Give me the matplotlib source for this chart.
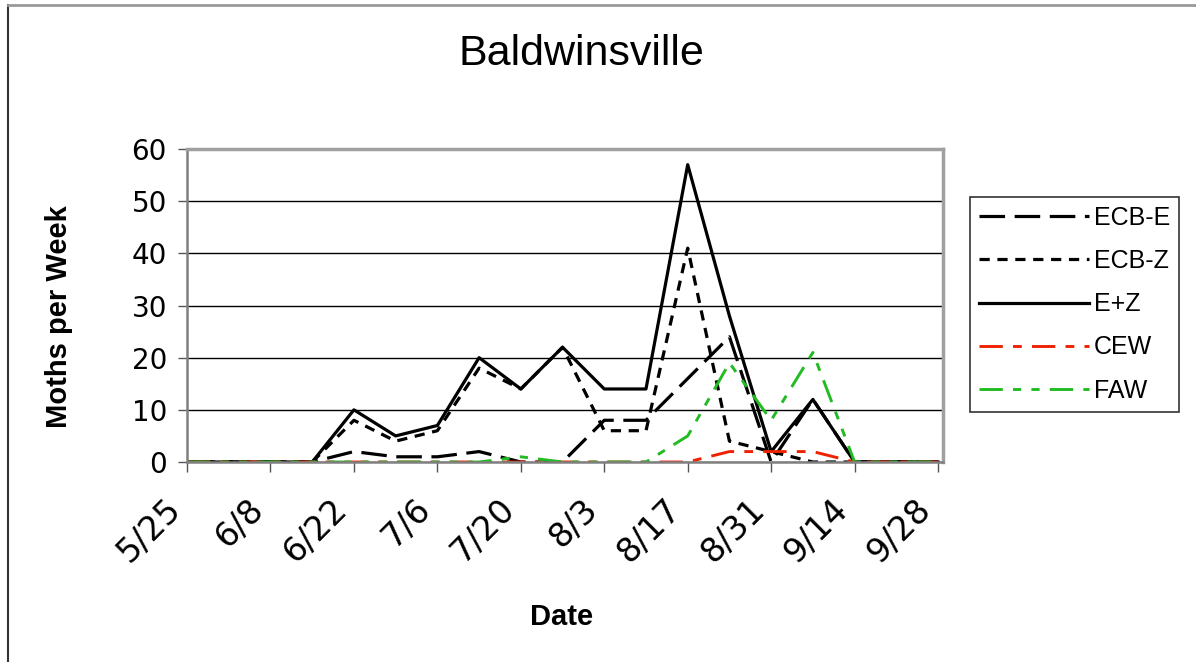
import matplotlib
matplotlib.use("Agg")
import matplotlib.pyplot as plt
import matplotlib.transforms as mtransforms
from matplotlib.lines import Line2D

# Weekly trap counts, Baldwinsville
dates = ["5/25", "6/1", "6/8", "6/15", "6/22", "6/29", "7/6", "7/13", "7/20", "7/27",
         "8/3", "8/10", "8/17", "8/24", "8/31", "9/7", "9/14", "9/21", "9/28"]
ecb_e = [0, 0, 0, 0, 2, 1, 1, 2, 0, 0, 8, 8, 16, 24, 0, 12, 0, 0, 0]
ecb_z = [0, 0, 0, 0, 8, 4, 6, 18, 14, 22, 6, 6, 41, 4, 2, 0, 0, 0, 0]
e_z = [0, 0, 0, 0, 10, 5, 7, 20, 14, 22, 14, 14, 57, 28, 2, 12, 0, 0, 0]
cew = [0, 0, 0, 0, 0, 0, 0, 0, 0, 0, 0, 0, 0, 2, 2, 2, 0, 0, 0]
faw = [0, 0, 0, 0, 0, 0, 0, 0, 1, 0, 0, 0, 5, 19, 8, 21, 0, 0, 0]

x = list(range(len(dates)))

fig = plt.figure(figsize=(11.96, 6.62), dpi=100)
ax = fig.add_axes([0.1564, 0.3021, 0.6321, 0.4728])

ax.plot(x, ecb_e, color="black", lw=2.3, dashes=(8, 3), label="ECB-E")
ax.plot(x, ecb_z, color="black", lw=2.3, dashes=(3.2, 2.4), label="ECB-Z")
ax.plot(x, e_z, color="black", lw=2.3, label="E+Z")
ax.plot(x, cew, color="#ee2200", lw=2.1, dashes=(8, 3.5, 3, 3.5), label="CEW")
ax.plot(x, faw, color="#22bb22", lw=2.1, dashes=(8, 3.5, 2.8, 3.5, 2.8, 3.5), label="FAW")

ax.set_xlim(0, 18.12)
ax.set_ylim(0, 60)
ax.set_yticks(range(0, 61, 10))
ax.set_xticks(x[::2])
ax.set_xticklabels(dates[::2], rotation=45, ha="right", va="top",
                   fontsize=24, family="DejaVu Sans")
# nudge rotated date labels a little to the left
shift = mtransforms.ScaledTranslation(-9 / 100, 0, fig.dpi_scale_trans)
for lab in ax.get_xticklabels():
    lab.set_transform(lab.get_transform() + shift)
ax.tick_params(axis="y", labelsize=20, length=6.5, width=1, color="#555555", pad=8)
ax.tick_params(axis="x", length=7, width=1, color="#555555", pad=15)
ax.yaxis.grid(True, color="black", lw=1)
ax.set_axisbelow(True)

for s in ("left", "bottom"):
    ax.spines[s].set_color("#808080")
    ax.spines[s].set_linewidth(1.8)
for s in ("top", "right"):
    ax.spines[s].set_color("#a0a0a0")
    ax.spines[s].set_linewidth(2.5)

ax.set_ylabel("Moths per Week", fontsize=21, fontweight="bold", family="Liberation Sans")
ax.yaxis.set_label_coords(-0.151, 0.464)
ax.set_xlabel("Date", fontsize=21, fontweight="bold", family="Liberation Sans")
ax.xaxis.set_label_coords(0.496, -0.495)
ax.xaxis.label.set_va("center")

fig.text(0.486, 0.919, "Baldwinsville", ha="center", va="center",
         fontsize=31, family="Liberation Sans")

leg = ax.legend(loc="upper left", bbox_to_anchor=(970 / 1196, 1 - 197 / 662),
                bbox_transform=fig.transFigure, borderaxespad=0,
                handlelength=4.4, handletextpad=0.2, labelspacing=0.77, borderpad=0.35,
                fancybox=False, edgecolor="#333333", framealpha=1,
                prop={"family": "Liberation Sans", "size": 18})
leg.get_frame().set_linewidth(1.2)

# outer chart frame
fig.add_artist(Line2D([0.0067, 0.0067], [0, 0.993], color="#333333", lw=1.5, transform=fig.transFigure))
fig.add_artist(Line2D([0.0067, 1], [0.993, 0.993], color="#999999", lw=2, transform=fig.transFigure))

fig.savefig("out.png", dpi=100)
plt.close(fig)
